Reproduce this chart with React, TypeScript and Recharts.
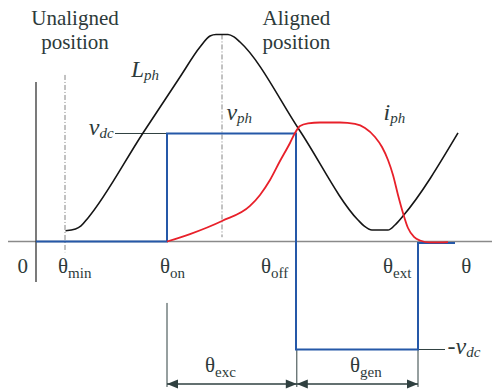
import React from 'react';
import {
  ComposedChart,
  Line,
  XAxis,
  YAxis,
  ReferenceLine,
  ReferenceDot,
} from 'recharts';

// Rotor angle in arbitrary electrical units, quantities in per-unit.
// Phase inductance over one stroke
const inductanceAngle = [7.38, 9.88, 11.25, 13, 26.75, 36, 41, 43.5, 45, 48, 49.5, 51, 66, 80.5, 82, 84, 88, 89.75, 91.75, 105.5];
const inductanceValue = [0.1, 0.116, 0.144, 0.218, 1.005, 1.523, 1.801, 1.903, 1.917, 1.917, 1.894, 1.847, 1.023, 0.199, 0.144, 0.106, 0.106, 0.153, 0.236, 1.005];

// Phase current
const currentAngle = [32.75, 38.5, 46.5, 53.5, 56, 58.5, 61, 63.5, 64.75, 66, 68, 71, 76, 79.75, 82.25, 84.75, 86.5, 88, 89.25, 90.5, 91.75, 93, 94.5, 96, 98.5, 101, 103];
const currentValue = [0, 0.069, 0.19, 0.329, 0.431, 0.569, 0.745, 0.912, 1.005, 1.069, 1.093, 1.102, 1.102, 1.088, 1.051, 0.968, 0.875, 0.755, 0.616, 0.431, 0.264, 0.125, 0.042, 0.009, -0.009, -0.009, -0.005];

// Phase voltage (hard chopping: +Vdc during excitation, -Vdc during generation)
const voltageAngle = [0, 32.75, 32.75, 65, 65, 95.5, 95.5, 104.75];
const voltageValue = [0, 0, 1, 1, -1, -1, -0.015, -0.015];

// Characteristic angles
const THETA_MIN = 7.25;
const THETA_ON = 32.75;
const THETA_ALIGNED = 46.5;
const THETA_OFF = 65;
const THETA_EXT = 95.5;
const VDC = 1;

const zip = (xs: number[], ys: number[]) => xs.map((x, i) => ({ x, y: ys[i] }));
const inductanceData = zip(inductanceAngle, inductanceValue);
const currentData = zip(currentAngle, currentValue);
const voltageData = zip(voltageAngle, voltageValue);

const W = 492;
const H = 390;
const X_DOMAIN: [number, number] = [-9, 114];
const Y_DOMAIN: [number, number] = [-1.375, 2.236];

const SERIF = '"Liberation Serif", "DejaVu Serif", "Times New Roman", serif';
const TEXT = '#2d3a3a';
const GRID_GRAY = '#8a8a8a';
const DIM = '#2f4040';

type LabelSpec = {
  x: number;
  y: number;
  main: string;
  sub?: string;
  italic?: boolean;
  size?: number;
  subSize?: number;
  second?: string;
};

// Text labels anchored at chart coordinates (baseline)
const labels: LabelSpec[] = [
  { x: 9.75, y: 2.005, main: 'Unaligned', second: 'position', size: 21 },
  { x: 65.1, y: 2.005, main: 'Aligned', second: 'position', size: 21 },
  { x: 23.8, y: 1.523, main: 'L', sub: 'ph', italic: true, size: 23 },
  { x: 13.2, y: 0.985, main: 'v', sub: 'dc', italic: true, size: 24 },
  { x: 47.6, y: 1.125, main: 'v', sub: 'ph', italic: true, size: 24 },
  { x: 86.9, y: 1.125, main: 'i', sub: 'ph', italic: true, size: 24 },
  { x: 102.9, y: -1.045, main: '-v', sub: 'dc', italic: true, size: 24 },
  { x: -4.6, y: -0.292, main: '0', size: 21 },
  { x: 5.5, y: -0.292, main: 'θ', sub: 'min' },
  { x: 31, y: -0.292, main: 'θ', sub: 'on' },
  { x: 56.25, y: -0.292, main: 'θ', sub: 'off' },
  { x: 86.75, y: -0.292, main: 'θ', sub: 'ext' },
  { x: 106.3, y: -0.292, main: 'θ' },
  { x: 42.25, y: -1.208, main: 'θ', sub: 'exc' },
  { x: 78.5, y: -1.208, main: 'θ', sub: 'gen' },
];

const renderLabel = (spec: LabelSpec) => (props: any) => {
  const { cx, cy } = props;
  const size = spec.size ?? 21;
  const subSize = spec.subSize ?? 15;
  const style = { fontFamily: SERIF };
  if (spec.second) {
    return (
      <text x={cx} y={cy} textAnchor="middle" style={style} fontSize={size} fill={TEXT}>
        <tspan x={cx}>{spec.main}</tspan>
        <tspan x={cx} dy={24}>
          {spec.second}
        </tspan>
      </text>
    );
  }
  return (
    <text x={cx} y={cy} style={style} fontSize={size} fill={TEXT} textAnchor="start">
      <tspan fontStyle={spec.italic ? 'italic' : 'normal'}>{spec.main}</tspan>
      {spec.sub ? (
        <tspan fontSize={subSize} dy={spec.italic ? 3 : 5} fontStyle={spec.italic ? 'italic' : 'normal'}>
          {spec.sub}
        </tspan>
      ) : null}
    </text>
  );
};

// Horizontal dimension line with filled arrowheads at both ends
const DimensionArrow = (props: any) => {
  const { x1, y1, x2 } = props;
  const len = 11;
  const half = 4.5;
  const a = Math.min(x1, x2);
  const b = Math.max(x1, x2);
  return (
    <g>
      <line x1={a} y1={y1} x2={b} y2={y1} stroke={DIM} strokeWidth={1.4} />
      <path d={`M${a},${y1} L${a + len},${y1 - half} L${a + len},${y1 + half} Z`} fill={DIM} />
      <path d={`M${b},${y1} L${b - len},${y1 - half} L${b - len},${y1 + half} Z`} fill={DIM} />
    </g>
  );
};

const DIM_Y = -1.319;
const DIM_BOTTOM = -1.347;

export default function App() {
  return (
    <div style={{ position: 'absolute', left: 0, top: 0, width: W, height: H, background: '#fff' }}>
      <ComposedChart width={W} height={H} margin={{ top: 0, right: 0, bottom: 0, left: 0 }}>
        <XAxis type="number" dataKey="x" domain={X_DOMAIN} allowDataOverflow hide />
        <YAxis type="number" domain={Y_DOMAIN} allowDataOverflow hide />

        {/* angle axis and origin */}
        <ReferenceLine
          segment={[{ x: -7, y: 0 }, { x: 114, y: 0 }]}
          stroke={GRID_GRAY}
          strokeWidth={1.6}
          ifOverflow="visible"
        />
        <ReferenceLine
          segment={[{ x: 0, y: 1.477 }, { x: 0, y: -0.375 }]}
          stroke="#333"
          strokeWidth={1.3}
        />

        {/* unaligned / aligned markers */}
        <ReferenceLine
          segment={[{ x: THETA_MIN, y: 1.542 }, { x: THETA_MIN, y: -0.1 }]}
          stroke="#777"
          strokeWidth={0.9}
          strokeDasharray="5 2 1 2"
        />
        <ReferenceLine
          segment={[{ x: THETA_ALIGNED, y: 1.917 }, { x: THETA_ALIGNED, y: 0.04 }]}
          stroke="#777"
          strokeWidth={0.9}
          strokeDasharray="5 2 1 2"
        />

        {/* supply level leaders */}
        <ReferenceLine
          segment={[{ x: 19.75, y: VDC }, { x: THETA_ON, y: VDC }]}
          stroke={DIM}
          strokeWidth={1}
        />
        <ReferenceLine
          segment={[{ x: THETA_EXT, y: -VDC }, { x: 102.25, y: -VDC }]}
          stroke={DIM}
          strokeWidth={1}
        />

        {/* dimension extension lines */}
        <ReferenceLine
          segment={[{ x: THETA_ON, y: -0.569 }, { x: THETA_ON, y: DIM_BOTTOM }]}
          stroke={DIM}
          strokeWidth={1}
        />
        <ReferenceLine
          segment={[{ x: THETA_OFF + 0.2, y: -VDC }, { x: THETA_OFF + 0.2, y: DIM_BOTTOM }]}
          stroke={DIM}
          strokeWidth={1}
        />
        <ReferenceLine
          segment={[{ x: THETA_EXT, y: -VDC }, { x: THETA_EXT, y: DIM_BOTTOM }]}
          stroke={DIM}
          strokeWidth={1}
        />
        <ReferenceLine
          segment={[{ x: THETA_ON, y: DIM_Y }, { x: THETA_OFF + 0.2, y: DIM_Y }]}
          shape={DimensionArrow}
        />
        <ReferenceLine
          segment={[{ x: THETA_OFF + 0.2, y: DIM_Y }, { x: THETA_EXT, y: DIM_Y }]}
          shape={DimensionArrow}
        />

        <Line
          data={inductanceData}
          dataKey="y"
          type="monotone"
          stroke="#151515"
          strokeWidth={1.6}
          dot={false}
          activeDot={false}
          isAnimationActive={false}
        />
        <Line
          data={voltageData}
          dataKey="y"
          type="linear"
          stroke="#2558a8"
          strokeWidth={2}
          dot={false}
          activeDot={false}
          isAnimationActive={false}
        />
        <Line
          data={currentData}
          dataKey="y"
          type="monotone"
          stroke="#e8202a"
          strokeWidth={1.8}
          dot={false}
          activeDot={false}
          isAnimationActive={false}
        />

        {labels.map((l, i) => (
          <ReferenceDot key={i} x={l.x} y={l.y} r={1} shape={renderLabel(l)} ifOverflow="visible" />
        ))}
      </ComposedChart>
    </div>
  );
}
